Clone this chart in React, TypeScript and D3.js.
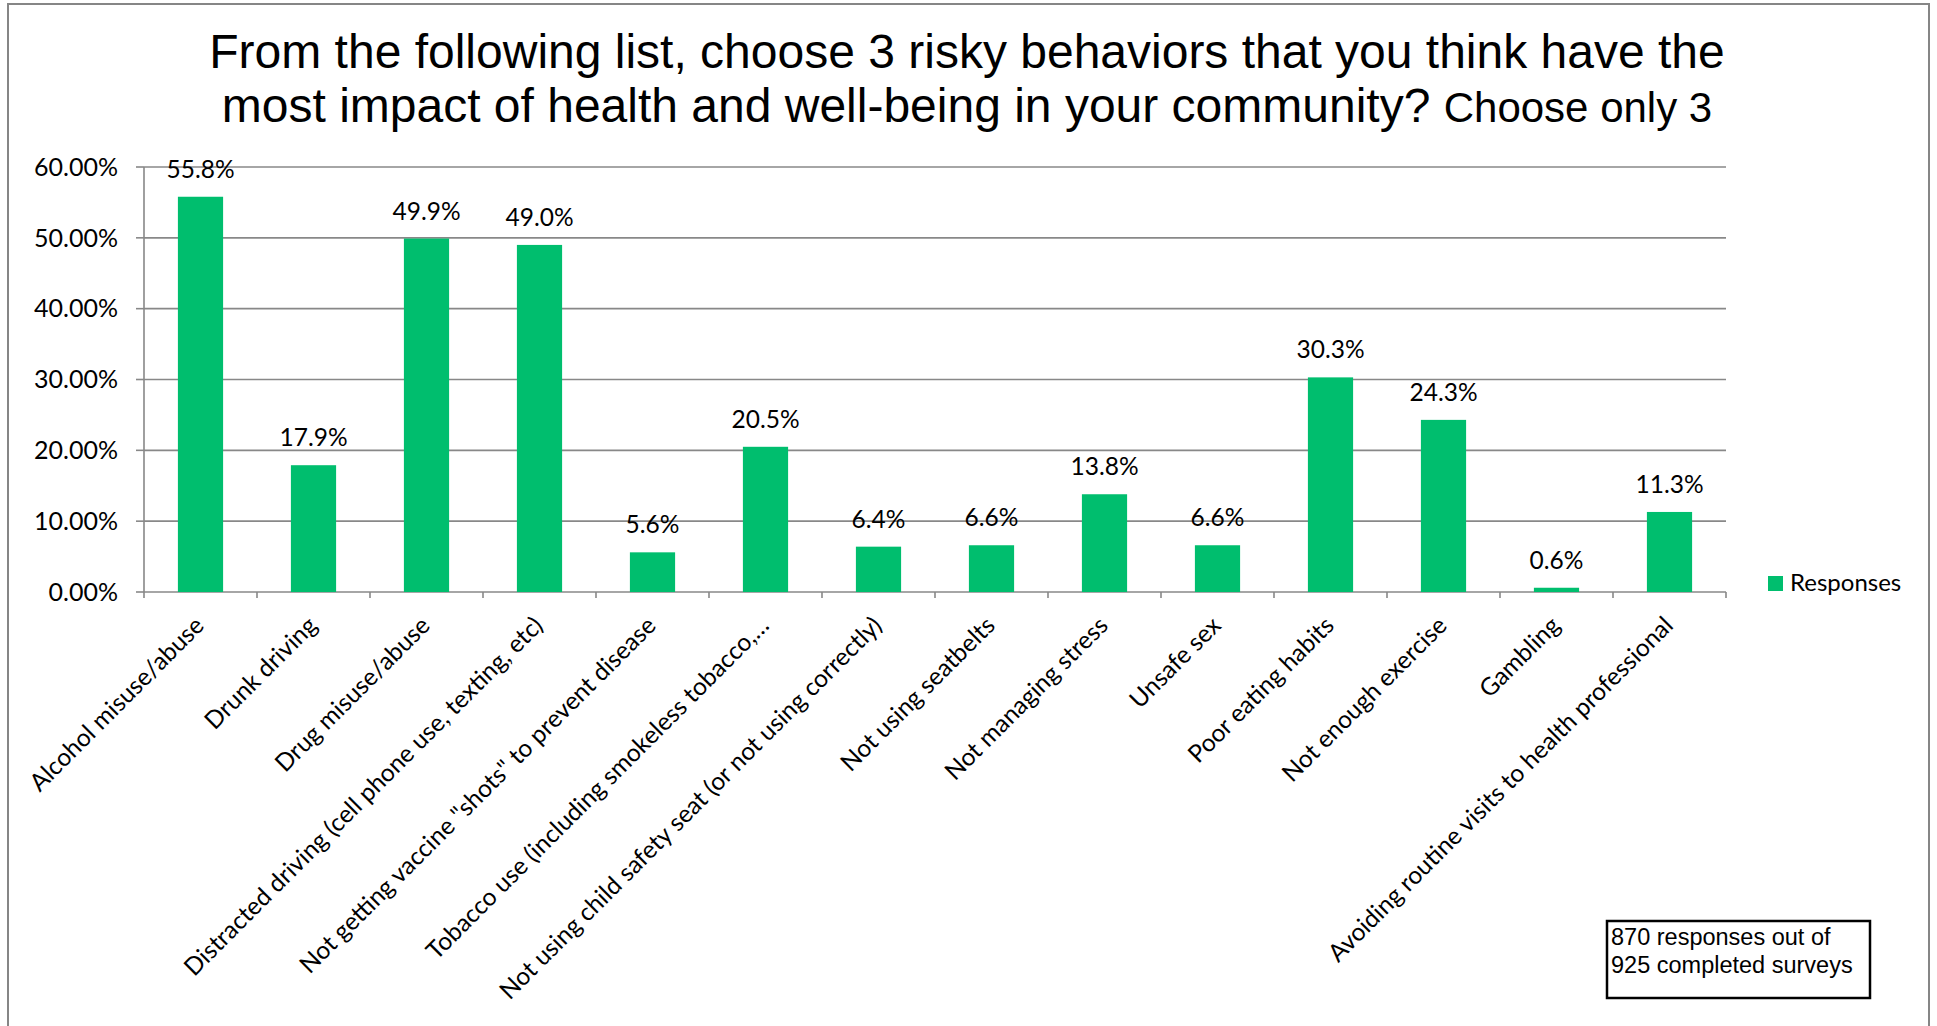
import React from "react";
import * as d3 from "d3";

const categories: string[] = [
  "Alcohol misuse/abuse",
  "Drunk driving",
  "Drug misuse/abuse",
  "Distracted driving (cell phone use, texting, etc)",
  "Not getting vaccine \"shots\" to prevent disease",
  "Tobacco use (including smokeless tobacco,…",
  "Not using child safety seat (or not using correctly)",
  "Not using seatbelts",
  "Not managing stress",
  "Unsafe sex",
  "Poor eating habits",
  "Not enough exercise",
  "Gambling",
  "Avoiding routine visits to health professional",
];

const responses: number[] = [55.8, 17.9, 49.9, 49.0, 5.6, 20.5, 6.4, 6.6, 13.8, 6.6, 30.3, 24.3, 0.6, 11.3];

const yTicks: number[] = [0, 10, 20, 30, 40, 50, 60];

const titleLine1 = "From the following list, choose 3 risky behaviors that you think have the";
const titleLine2 = "most impact of health and well-being in your community? ";
const titleLine2Small = "Choose only 3";
const seriesName = "Responses";
const noteLines: string[] = ["870 responses out of", "925 completed surveys"];

const W = 1937;
const H = 1026;
const plotLeft = 144;
const plotRight = 1726;
const plotTop = 167;
const plotBottom = 592;
const green = "#00BE6E";
const grid = "#888888";
const font = "Lato, 'Open Sans', sans-serif";
const titleFont = "'Liberation Sans', Arial, sans-serif";

export default function App() {
  const x = d3
    .scaleBand<string>()
    .domain(categories)
    .range([plotLeft, plotRight])
    .paddingInner(0.6)
    .paddingOuter(0.3);
  const y = d3.scaleLinear().domain([0, 60]).range([plotBottom, plotTop]);
  const step = x.step();
  const boundaries = d3.range(categories.length + 1).map((i) => plotLeft + i * step);

  return (
    <svg
      width={W}
      height={H}
      style={{ position: "absolute", left: 0, top: 0, background: "#fff" }}
    >
      <rect x={0} y={0} width={W} height={H} fill="#fff" />
      <rect x={8} y={4} width={1921} height={1100} fill="none" stroke="#868686" strokeWidth={2} />

      {/* Title */}
      <text x={967} y={68} textAnchor="middle" fontFamily={titleFont} fontSize={48} fill="#000">
        {titleLine1}
      </text>
      <text x={967} y={122} textAnchor="middle" fontFamily={titleFont} fontSize={48} fill="#000">
        {titleLine2}
        <tspan fontSize={42}>{titleLine2Small}</tspan>
      </text>

      {/* gridlines */}
      {yTicks.map((t) => (
        <line key={"g" + t} x1={plotLeft} x2={plotRight} y1={y(t)} y2={y(t)} stroke={grid} strokeWidth={1.6} />
      ))}
      {/* y axis */}
      <line x1={plotLeft} x2={plotLeft} y1={plotTop} y2={plotBottom} stroke={grid} strokeWidth={1.6} />
      {yTicks.map((t) => (
        <g key={"yt" + t}>
          <line x1={plotLeft - 8} x2={plotLeft} y1={y(t)} y2={y(t)} stroke={grid} strokeWidth={1.6} />
          <text x={118} y={y(t)} dy="0.35em" textAnchor="end" fontFamily={font} fontSize={25} fill="#000">
            {t.toFixed(2) + "%"}
          </text>
        </g>
      ))}
      {/* x ticks */}
      {boundaries.map((b, i) => (
        <line key={"xt" + i} x1={b} x2={b} y1={plotBottom} y2={plotBottom + 6} stroke={grid} strokeWidth={1.6} />
      ))}

      {/* bars */}
      {categories.map((c, i) => (
        <rect
          key={"b" + i}
          x={x(c)}
          y={y(responses[i])}
          width={x.bandwidth()}
          height={plotBottom - y(responses[i])}
          fill={green}
        />
      ))}
      {/* data labels */}
      {categories.map((c, i) => (
        <text
          key={"l" + i}
          x={(x(c) as number) + x.bandwidth() / 2}
          y={y(responses[i]) - 19}
          textAnchor="middle"
          fontFamily={font}
          fontSize={24.5}
          fill="#000"
        >
          {responses[i].toFixed(1) + "%"}
        </text>
      ))}

      {/* category labels */}
      {categories.map((c, i) => {
        const cx = (x(c) as number) + x.bandwidth() / 2;
        return (
          <text
            key={"c" + i}
            transform={`translate(${cx + 5},${627}) rotate(-45)`}
            textAnchor="end"
            fontFamily={font}
            fontSize={24.5}
            fill="#000"
          >
            {c}
          </text>
        );
      })}

      {/* legend */}
      <rect x={1768} y={576} width={15} height={15} fill={green} />
      <text x={1790} y={591} fontFamily={font} fontSize={24} fill="#000">
        {seriesName}
      </text>

      {/* note box */}
      <rect x={1607} y={921} width={263} height={77} fill="#fff" stroke="#000" strokeWidth={2.5} />
      {noteLines.map((l, i) => (
        <text key={"n" + i} x={1611} y={945 + i * 28} fontFamily={titleFont} fontSize={23.5} fill="#000">
          {l}
        </text>
      ))}
    </svg>
  );
}
